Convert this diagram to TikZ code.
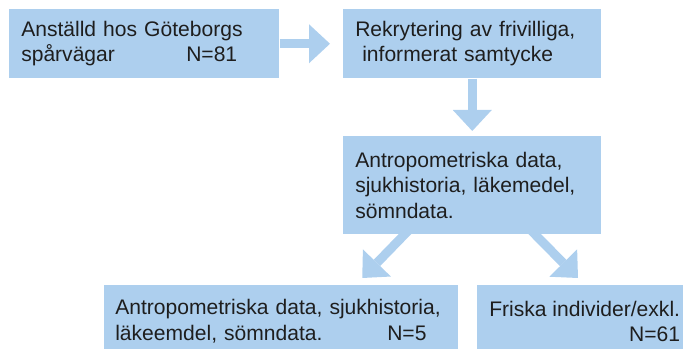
\documentclass[tikz,border=0pt]{standalone}
\usepackage{fontspec}
\setmainfont{Liberation Sans}
\usepackage{tikz}
\usetikzlibrary{arrows.meta}
\usetikzlibrary{calc}
\definecolor{boxblue}{RGB}{173,207,238}
\definecolor{textgray}{RGB}{30,30,30}

\begin{document}
\begin{tikzpicture}[x=0.75pt,y=-0.75pt,
  box/.style={fill=boxblue,anchor=north west,inner xsep=9pt,inner ysep=0pt,align=left,
    text=textgray,font=\fontsize{15.8pt}{19pt}\selectfont},
  blockarrow/.style={draw=boxblue,line width=6.75pt,
    -{Triangle[width=29.25pt,length=15.75pt,line width=0pt]}}]
\clip (0,0) rectangle (683,349);
% upper row
\node[box,minimum width=202.5pt,minimum height=51.75pt,text width=184.5pt] (anst) at (9,9)
  {Anställd hos Göteborgs\\\makebox[123.75pt][l]{spårvägar}N=81};
\node[box,minimum width=193.5pt,minimum height=51.75pt,text width=175.5pt] (rekr) at (343,9)
  {Rekrytering av frivilliga,\\\ informerat samtycke};
% middle
\node[box,minimum width=193.5pt,minimum height=73.5pt,text width=175.5pt] (antro) at (343,136)
  {Antropometriska data,\\sjukhistoria, läkemedel,\\sömndata.};
% lower row
\node[box,inner xsep=8.25pt,minimum width=265.5pt,minimum height=54pt,text width=249pt] (sjuk) at (104,285)
  {Antropometriska data, sjukhistoria,\\\makebox[204pt][l]{läkeemdel, sömndata.}N=5};
\node[box,align=right,minimum height=54pt] (frisk) at (477,285)
  {Friska individer/exkl.\\N=61};
% arrows
\draw[blockarrow,shorten >=9.75pt] (anst) -- (rekr);
\draw[blockarrow,shorten >=3.75pt] (rekr) -- (antro);
\draw[blockarrow] ($(antro.south)+(-60,-8)$) -- ($(sjuk.north)+(81,-7)$);
\draw[blockarrow] ($(antro.south)+(55,-8)$) -- ($(frisk.north west)+(101,-7)$);
\end{tikzpicture}
\end{document}
